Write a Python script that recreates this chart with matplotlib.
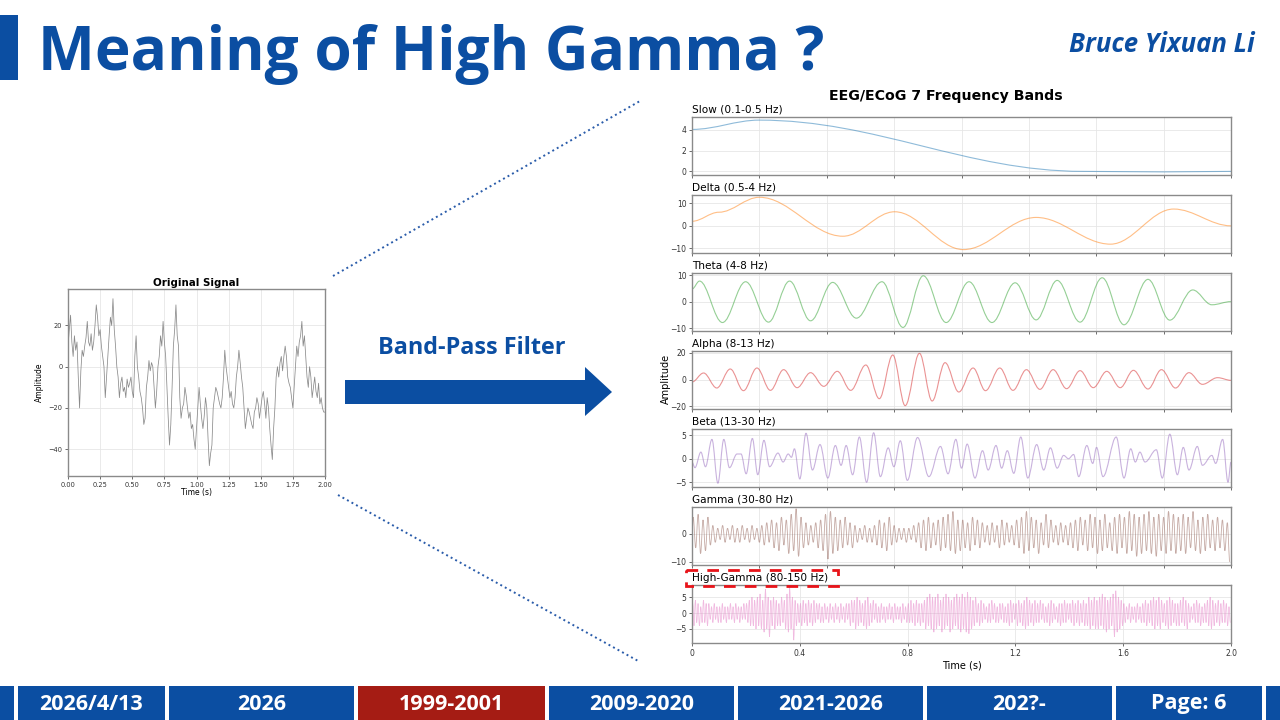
import numpy as np
import matplotlib
matplotlib.use('Agg')
import matplotlib.pyplot as plt
from matplotlib.path import Path
from matplotlib.patches import PathPatch, Rectangle, Polygon

W, H = 1280, 720
BLUE = '#0b4ea2'
RED_BOX = '#a51c14'

# ---- data ----
# original signal, sampled every 0.01 s from 0 to 2 s
orig_v = [
    10, 18, 25, 12, 5, 15, 8, 12, -5, -20,
    -2, 8, 5, 10, 14, 22, 12, 10, 16, 8,
    12, 20, 30, 24, 15, 18, 10, 5, 0, -15,
    -5, 5, 15, 24, 20, 33, 18, 10, 0, -5,
    -15, -8, -5, -12, -10, -15, -6, -10, -8, -5,
    -12, -15, 5, 15, 0, -5, -12, -15, -20, -28,
    -25, -10, -5, 3, -2, 2, 0, -10, -20, -12,
    0, 5, 15, 10, 22, 12, 5, -10, -25, -38,
    -28, -10, 10, 18, 30, 15, 10, -15, -25, -20,
    -18, -10, -14, -20, -25, -22, -30, -28, -35, -40,
    -30, -20, -10, -18, -25, -30, -24, -15, -20, -35,
    -48, -42, -38, -20, -15, -10, -12, -15, -18, -20,
    -15, -5, 8, 0, -5, -10, -15, -12, -18, -20,
    -15, -5, 0, 8, 2, -5, -10, -20, -30, -25,
    -20, -22, -25, -28, -30, -22, -20, -15, -18, -25,
    -20, -15, -12, -18, -25, -15, -20, -30, -38, -45,
    -30, -20, -5, 0, -5, 2, 5, -2, 5, 10,
    5, -5, -8, -10, -15, -20, -10, 0, 10, 5,
    12, 15, 22, 10, 15, 5, -5, -10, 0, -5,
    -15, -10, -5, -12, -15, -8, -18, -15, -20, -22,
    -22,
]
orig_t = np.linspace(0, 2, len(orig_v))

band_names = ['Slow (0.1-0.5 Hz)', 'Delta (0.5-4 Hz)', 'Theta (4-8 Hz)',
              'Alpha (8-13 Hz)', 'Beta (13-30 Hz)', 'Gamma (30-80 Hz)',
              'High-Gamma (80-150 Hz)']

# turning points (time in s, value) for the slower bands
slow_t = [0.0, 0.25, 1.45, 1.75, 2.0]
slow_v = [4.05, 4.95, 0.0, -0.05, 0.0]

delta_t = [0.0, 0.10, 0.25, 0.56, 0.752, 1.007, 1.277, 1.553, 1.787, 2.0]
delta_v = [2.0, 6.0, 12.6, -4.6, 6.2, -10.5, 3.7, -8.1, 7.4, 0.0]

theta_t = [0.0, 0.028, 0.113, 0.199, 0.284, 0.362, 0.440, 0.522, 0.610, 0.705,
           0.783, 0.858, 0.943, 1.028, 1.113, 1.199, 1.277, 1.355, 1.440, 1.522,
           1.603, 1.692, 1.773, 1.858, 1.929, 2.0]
theta_v = [4.75, 7.75, -7.9, 7.5, -7.75, 7.75, -7.25, 7.25, -6.25, 7.5,
           -9.75, 9.75, -7.9, 7.5, -7.9, 7.1, -6.9, 8.0, -7.75, 9.0,
           -8.75, 8.4, -7.0, 4.4, -1.2, 0.0]

alpha_t = [0.0, 0.043, 0.092, 0.142, 0.191, 0.241, 0.291, 0.340, 0.390, 0.440,
           0.489, 0.539, 0.589, 0.645, 0.695, 0.745, 0.791, 0.844, 0.891, 0.939,
           0.990, 1.043, 1.089, 1.142, 1.191, 1.241, 1.291, 1.340, 1.390, 1.440,
           1.489, 1.539, 1.589, 1.638, 1.692, 1.742, 1.794, 1.844, 1.894, 1.950,
           2.0]
alpha_v = [-1.75, 5.0, -6.25, 8.0, -8.25, 8.75, -8.0, 7.5, -6.0, 5.25,
           -5.0, 6.25, -8.0, 11.0, -14.25, 18.5, -19.5, 19.75, -16.0, 12.75,
           -9.25, 8.75, -8.25, 8.75, -8.0, 7.5, -7.25, 7.5, -6.75, 6.75,
           -6.0, 6.25, -6.0, 7.0, -7.0, 7.5, -6.25, 5.25, -3.5, 1.5,
           -0.5]

beta_t = [0.0, 0.011, 0.033, 0.050, 0.074, 0.096, 0.118, 0.139, 0.167, 0.182,
          0.201, 0.224, 0.244, 0.267, 0.288, 0.319, 0.338, 0.357, 0.369, 0.380,
          0.400, 0.423, 0.447, 0.475, 0.504, 0.532, 0.553, 0.572, 0.596, 0.621,
          0.648, 0.674, 0.699, 0.728, 0.749, 0.773, 0.799, 0.837, 0.879, 0.922,
          0.950, 0.979, 1.000, 1.021, 1.050, 1.078, 1.099, 1.128, 1.149, 1.170,
          1.194, 1.220, 1.246, 1.279, 1.305, 1.330, 1.355, 1.379, 1.397, 1.416,
          1.435, 1.465, 1.487, 1.501, 1.525, 1.574, 1.603, 1.628, 1.645, 1.662,
          1.681, 1.723, 1.745, 1.773, 1.801, 1.823, 1.844, 1.875, 1.894, 1.929,
          1.943, 1.969, 1.989, 2.0]
beta_v = [-0.7, -1.9, 1.4, -1.7, 4.1, -5.2, 4.1, -1.9, 1.0, 1.0,
          -3.2, 4.3, -3.4, 3.9, -1.7, 1.2, -0.7, 1.0, 0.3, 2.1,
          -4.3, 5.4, -2.4, 3.0, -4.1, 2.8, -1.4, 2.8, -3.4, 4.6,
          -5.0, 5.5, -3.8, 2.3, -1.7, 3.8, -4.6, 4.5, -3.8, 2.6,
          -3.2, 4.1, -2.0, 3.1, -4.1, 1.7, -2.4, 2.8, -2.0, 1.7,
          -3.1, 4.6, -4.1, 3.0, -2.4, 2.3, -2.0, 0.7, 0.0, 0.9,
          -3.8, 2.8, -1.0, 2.4, -3.8, 4.6, -4.1, 2.1, -0.7, 1.4,
          -0.7, 1.9, -4.1, 5.2, -3.4, 2.4, -2.4, 2.6, -1.4, 0.7,
          -1.0, 4.1, -5.0, -0.7]

# fast bands: one peak and one trough per cycle, cycles evenly spread over 2 s
gamma_peaks = [
    6, 7, 5, 6, 3, 2, 3, 2, 3, 2, 3,
    2, 3, 2, 3, 4, 5, 4, 6, 5, 7, 9,
    6, 4, 3, 4, 5, 7, 8, 6, 5, 6, 4,
    3, 2, 3, 2, 3, 5, 4, 6, 3, 2, 2,
    2, 3, 4, 5, 6, 4, 5, 6, 7, 8, 5,
    5, 4, 6, 5, 4, 3, 4, 3, 5, 4, 3,
    5, 6, 8, 6, 5, 4, 7, 5, 3, 4, 3,
    4, 5, 6, 5, 7, 6, 5, 7, 4, 6, 7,
    6, 8, 7, 6, 7, 8, 6, 7, 6, 8, 7,
    6, 7, 6, 8, 5, 6, 7, 5, 6, 5, 4,
]
gamma_troughs = [
    -5, -7, -6, -4, -3, -2, -3, -2, -3, -3, -2,
    -3, -2, -3, -4, -3, -5, -6, -4, -7, -6, -8,
    -5, -4, -3, -5, -6, -9, -7, -6, -5, -4, -5,
    -3, -2, -3, -3, -4, -5, -6, -4, -3, -2, -3,
    -2, -3, -5, -6, -5, -4, -6, -5, -6, -7, -6,
    -5, -6, -4, -5, -3, -4, -3, -5, -4, -3, -4,
    -5, -7, -6, -5, -7, -4, -5, -3, -4, -3, -4,
    -5, -6, -4, -6, -5, -7, -6, -5, -6, -7, -5,
    -7, -6, -8, -7, -6, -7, -8, -6, -7, -6, -7,
    -6, -7, -5, -6, -7, -6, -5, -6, -5, -6, -10,
]

hg_peaks = [
    3, 4, 3, 2, 4, 3, 3, 2, 3, 2, 2, 3, 2, 2, 3, 2, 3, 2, 2, 3,
    3, 4, 5, 4, 5, 6, 4, 7.5, 5, 4, 5, 4, 3, 5, 4, 6, 8, 5, 4, 3,
    3, 4, 3, 4, 3, 4, 3, 3, 2, 3, 2, 3, 2, 3, 2, 3, 2, 3, 3, 4,
    4, 5, 4, 3, 4, 5, 3, 4, 3, 2, 3, 2, 2, 3, 2, 3, 2, 2, 3, 2,
    3, 4, 3, 4, 3, 3, 4, 5, 6, 5, 5, 6, 4, 5, 6, 5, 4, 5, 6, 5,
    6, 5, 6.5, 5, 4, 5, 3, 4, 3, 2, 3, 4, 3, 2, 3, 3, 2, 3, 4, 3,
    3, 4, 3, 4, 5, 4, 3, 4, 3, 4, 3, 2, 3, 4, 3, 2, 3, 3, 4, 3,
    3, 4, 3, 4, 3, 4, 3, 5, 4, 5, 4, 5, 6, 5, 4, 5, 6, 7, 5, 4,
    3, 2, 3, 2, 2, 3, 2, 3, 4, 3, 4, 5, 4, 5, 4, 3, 4, 5, 4, 3,
    3, 4, 5, 4, 3, 2, 3, 4, 3, 2, 3, 4, 5, 4, 3, 4, 3, 4, 3, 2,
]
hg_troughs = [
    -4, -3, -4, -3, -3, -4, -2, -3, -2, -3, -3, -2, -3, -2, -2, -3, -2, -3, -2, -2,
    -3, -4, -4, -5, -4, -5, -6, -5, -7.5, -4, -5, -4, -4, -3, -5, -6, -5, -8.5, -4, -3,
    -4, -3, -4, -3, -4, -3, -2, -3, -3, -2, -3, -2, -3, -2, -3, -2, -3, -2, -4, -3,
    -5, -4, -3, -4, -5, -4, -3, -2, -3, -3, -2, -3, -2, -2, -3, -2, -2, -3, -2, -3,
    -3, -3, -4, -3, -4, -3, -5, -4, -5, -6, -5, -4, -6, -5, -4, -6, -5, -4, -5, -6,
    -5, -6, -6.5, -5, -4, -3, -4, -3, -2, -3, -3, -2, -3, -3, -2, -3, -3, -4, -3, -2,
    -4, -3, -4, -5, -4, -3, -4, -3, -3, -2, -3, -3, -4, -3, -2, -3, -4, -3, -3, -2,
    -3, -4, -3, -4, -3, -4, -4, -5, -4, -5, -5, -4, -5, -6, -5, -4, -7.5, -6, -5, -4,
    -3, -2, -3, -2, -3, -2, -3, -3, -4, -3, -4, -5, -4, -5, -3, -4, -5, -4, -3, -4,
    -4, -3, -4, -5, -3, -2, -3, -3, -4, -3, -3, -4, -5, -4, -3, -4, -3, -3, -4, -3,
]

footer_labels = ['', '2026/4/13', '2026', '1999-2001', '2009-2020',
                 '2021-2026', '202?-', 'Page: 6', '']


def cycles(peaks, troughs, start=0.0):
    n = len(peaks)
    t = np.empty(2 * n)
    v = np.empty(2 * n)
    t[0::2] = (np.arange(n) + 0.25) * 2.0 / n
    t[1::2] = (np.arange(n) + 0.75) * 2.0 / n
    v[0::2] = peaks
    v[1::2] = troughs
    return np.r_[0.0, t], np.r_[start, v]


def smooth_path(t, v):
    # cubic segments with flat tangents at every turning point
    verts = [(t[0], v[0])]
    codes = [Path.MOVETO]
    for i in range(1, len(t)):
        dt = t[i] - t[i - 1]
        verts += [(t[i - 1] + 0.36 * dt, v[i - 1]), (t[i] - 0.36 * dt, v[i]), (t[i], v[i])]
        codes += [Path.CURVE4] * 3
    return Path(verts, codes)


def px_axes(left, top, right, bottom):
    return fig.add_axes([left / W, 1 - bottom / H, (right - left) / W, (bottom - top) / H])


def style_axes(ax, tick_size):
    for s in ax.spines.values():
        s.set_color('#8a8a8a')
        s.set_linewidth(1.0)
    ax.grid(True, color='#e6e6e6', linewidth=0.6)
    ax.set_axisbelow(True)
    ax.tick_params(labelsize=tick_size, length=2.5, width=0.6, pad=1.5,
                   color='#555555', labelcolor='#333333')


fig = plt.figure(figsize=(12.8, 7.2), dpi=100)

# slide layer in pixel coordinates, kept above the chart axes
bg = fig.add_axes([0, 0, 1, 1])
bg.set_xlim(0, W)
bg.set_ylim(H, 0)
bg.axis('off')
bg.set_zorder(10)

bg.add_patch(Rectangle((0, 15), 18, 65, color=BLUE, lw=0))
bg.text(38, 70, 'Meaning of High Gamma ?', color=BLUE, fontsize=43.5,
        fontweight='bold', family='Open Sans', va='baseline', ha='left')
bg.text(1255, 45, 'Bruce Yixuan Li', color=BLUE, fontsize=18.5, fontweight='bold',
        style='italic', family='Open Sans', va='center', ha='right')

# dotted guide lines
bg.plot([333, 640], [276, 101], color='#2a5caa', lw=1.4, ls=':')
bg.plot([338, 640], [495, 662], color='#2a5caa', lw=1.4, ls=':')

# arrow with caption
bg.add_patch(Polygon([(345, 380), (585, 380), (585, 367), (612, 392),
                      (585, 416), (585, 404), (345, 404)], closed=True, color=BLUE, lw=0))
bg.text(472, 348, 'Band-Pass Filter', color=BLUE, fontsize=16.8, fontweight='bold',
        family='Open Sans', ha='center', va='center')

# red dashed box around the high-gamma title
bg.add_patch(Rectangle((686, 569.5), 152, 16.5, fill=False, edgecolor='#e8141a',
                       lw=2.0, ls=(0, (4.2, 3.3))))

# footer
edges = [(0, 14), (18, 165), (169, 354), (358, 545), (549, 734),
         (738, 923), (927, 1112), (1116, 1262), (1266, 1280)]
for (x0, x1), lab in zip(edges, footer_labels):
    col = RED_BOX if lab == '1999-2001' else BLUE
    bg.add_patch(Rectangle((x0, 686), x1 - x0, 34, color=col, lw=0))
    if lab:
        bg.text((x0 + x1) / 2, 704, lab, color='white', fontsize=15.5, fontweight='bold',
                family='Open Sans', ha='center', va='center')

# original signal
ax0 = px_axes(68, 289, 325, 476)
ax0.plot(orig_t, orig_v, color='#8a8a8a', lw=0.55)
ax0.set_xlim(0, 2)
ax0.set_ylim(-53, 37.7)
ax0.set_xticks([0, 0.25, 0.5, 0.75, 1.0, 1.25, 1.5, 1.75, 2.0])
ax0.set_xticklabels(['0.00', '0.25', '0.50', '0.75', '1.00', '1.25', '1.50', '1.75', '2.00'])
ax0.set_yticks([-40, -20, 0, 20])
style_axes(ax0, 4.8)
ax0.set_title('Original Signal', fontsize=7.4, fontweight='bold', pad=2)
ax0.set_xlabel('Time (s)', fontsize=5.5, labelpad=0)
ax0.set_ylabel('Amplitude', fontsize=5.5, labelpad=3)

# seven frequency bands
gamma_t, gamma_v = cycles(gamma_peaks, gamma_troughs)
hg_t, hg_v = cycles(hg_peaks, hg_troughs)
band_series = [(slow_t, slow_v), (delta_t, delta_v), (theta_t, theta_v),
               (alpha_t, alpha_v), (beta_t, beta_v), (gamma_t, gamma_v), (hg_t, hg_v)]
band_ylims = [(-0.35, 5.25), (-12.0, 13.6), (-11.1, 10.8), (-22.0, 21.5),
              (-6.0, 6.3), (-11.1, 9.6), (-9.4, 8.8)]
band_yticks = [[0, 2, 4], [-10, 0, 10], [-10, 0, 10], [-20, 0, 20],
               [-5, 0, 5], [-10, 0], [-5, 0, 5]]
band_colors = plt.get_cmap('tab10').colors[:7]
band_widths = [0.8, 0.8, 0.8, 0.8, 0.8, 0.6, 0.55]

for i, (name, (t, v)) in enumerate(zip(band_names, band_series)):
    top = 117 + 78 * i
    ax = px_axes(692, top, 1231, top + 58)
    ax.add_patch(PathPatch(smooth_path(t, v), fill=False, edgecolor=band_colors[i],
                           lw=band_widths[i], alpha=0.5))
    ax.set_xlim(0, 2)
    ax.set_ylim(*band_ylims[i])
    ax.set_yticks(band_yticks[i])
    style_axes(ax, 5.5)
    ax.set_title(name, loc='left', fontsize=7.6, pad=3)
    if i < 6:
        ax.set_xticks([0, 0.25, 0.5, 0.75, 1.0, 1.25, 1.5, 1.75, 2.0])
        ax.set_xticklabels([])
    else:
        ax.set_xticks([0, 0.4, 0.8, 1.2, 1.6, 2.0])
        ax.set_xticklabels(['0', '0.4', '0.8', '1.2', '1.6', '2.0'])
        ax.set_xlabel('Time (s)', fontsize=7, labelpad=2)

fig.text(946 / W, 1 - 96 / H, 'EEG/ECoG 7 Frequency Bands', fontsize=10.2,
         fontweight='bold', ha='center', va='center')
fig.text(666 / W, 1 - 379 / H, 'Amplitude', fontsize=7, rotation=90,
         ha='center', va='center')

fig.savefig('out.png', dpi=100)
